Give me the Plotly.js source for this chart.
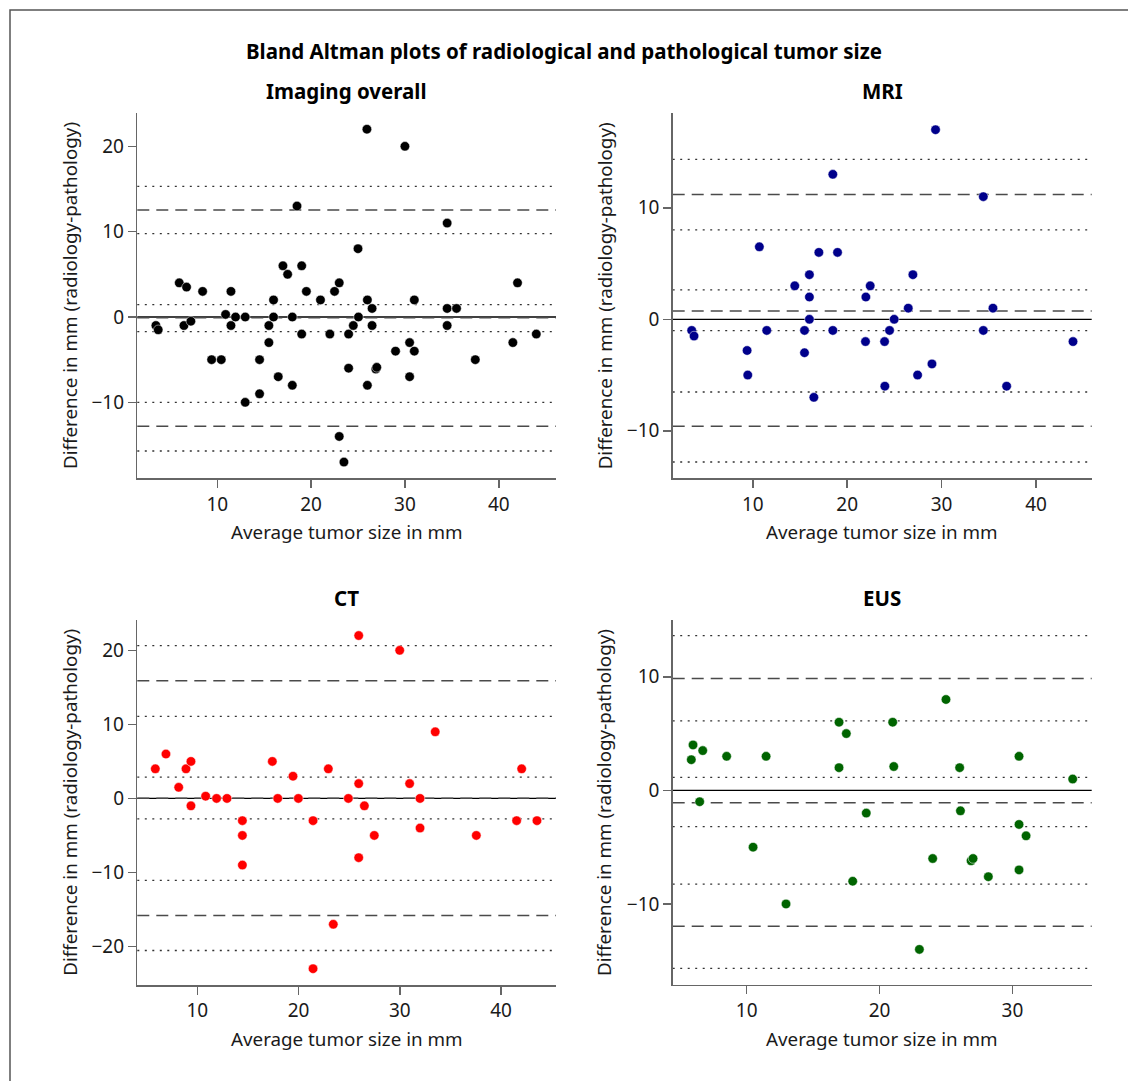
<!DOCTYPE html>
<html>
<head>
<meta charset="utf-8">
<script src="https://cdn.plot.ly/plotly-3.0.1.min.js"></script>
<style>html,body{margin:0;padding:0;background:#fff;}#chart{width:1128px;height:1081px;}</style>
</head>
<body>
<div id="chart"></div>
<script>
// ---------- data ----------
const panelTitles = ["Imaging overall", "MRI", "CT", "EUS"];
const mainTitle = "Bland Altman plots of radiological and pathological tumor size";
const xTitle = "Average tumor size in mm";
const yTitle = "Difference in mm (radiology-pathology)";

const overallX = [3.46,3.71,5.95,6.73,6.45,7.19,8.44,9.40,10.43,10.89,11.46,11.46,11.95,12.98,12.98,14.51,14.51,15.5,15.5,16.0,16.0,16.5,17.0,17.5,18.0,18.0,18.5,19.0,19.0,19.5,21.0,22.0,22.5,23.0,23.0,23.5,24.0,24.0,24.5,25.0,25.05,25.95,26.0,26.0,26.5,26.5,26.9,27.0,29.0,30.0,30.5,30.5,31.0,31.0,34.5,34.5,34.5,35.5,37.5,41.5,42.0,44.0];
const overallY = [-1,-1.5,4,3.5,-1,-0.5,3,-5,-5,0.3,3,-1,0,0,-10,-5,-9,-1,-3,2,0,-7,6,5,0,-8,13,6,-2,3,2,-2,3,4,-14,-17,-2,-6,-1,8,0,22,2,-8,1,-1,-6.1,-5.9,-4,20,-3,-7,2,-4,11,1,-1,1,-5,-3,4,-2];

const mriX = [3.53,3.78,9.4,9.47,10.7,11.48,14.45,15.48,15.48,16.0,16.0,16.0,16.47,17.0,18.48,18.48,18.98,21.98,21.94,22.44,23.96,23.99,24.49,24.98,26.47,26.96,27.46,28.98,29.36,34.42,34.42,35.44,36.89,43.92];
const mriY = [-1,-1.5,-2.8,-5,6.5,-1,3,-1,-3,4,2,0,-7,6,13,-1,6,2,-2,3,-2,-6,-1,0,1,4,-5,-4,17,11,-1,1,-6,-2];

const ctX = [5.85,6.9,8.16,8.88,9.37,9.37,10.82,11.9,12.93,14.45,14.45,14.45,17.41,17.94,19.45,19.98,21.43,21.43,22.94,23.43,24.92,25.94,25.94,25.94,26.5,27.48,29.99,30.97,32.0,32.0,33.5,37.56,41.54,42.04,43.55];
const ctY = [4,6,1.5,4,5,-1,0.3,0,0,-3,-5,-9,5,0,3,0,-3,-23,4,-17,0,22,2,-8,-1,-5,20,2,0,-4,9,-5,-3,4,-3];

const eusX = [5.83,5.96,6.69,6.46,8.49,10.48,11.46,12.96,16.95,16.95,17.5,17.98,19.0,20.99,21.07,23.0,24.0,25.0,26.03,26.09,26.89,27.04,28.19,30.5,30.5,30.5,31.03,34.54];
const eusY = [2.7,4,3.5,-1,3,-5,3,-10,6,2,5,-8,-2,6,2.1,-14,-6,8,2,-1.8,-6.2,-6,-7.6,3,-3,-7,-4,1];

// bias and limits of agreement with confidence bounds: [mean, meanLo, meanHi, upper, upperLo, upperHi, lower, lowerLo, lowerHi]
const overallStats = [-0.08,-1.72,1.45,12.54,9.77,15.3,-12.8,-15.7,-10.0];
const mriStats = [0.75,-1.02,2.63,11.18,8.01,14.35,-9.6,-12.8,-6.52];
const ctStats = [0.04,-2.75,2.88,15.9,11.08,20.63,-15.81,-20.54,-11.08];
const eusStats = [-1.09,-3.2,1.15,9.84,6.11,13.63,-11.96,-15.68,-8.25];
const zeroLine = 0;

// ---------- layout helpers ----------
const W = 1128, H = 1081;
const px = v => v / W;
const py = v => 1 - v / H;

const panels = [
  {x: overallX, y: overallY, stats: overallStats, color: "#000000", xr: [1.48, 46.1], yr: [-18.9, 23.9], dom: [137.3, 556, 113, 478.3]},
  {x: mriX, y: mriY, stats: mriStats, color: "#00008B", xr: [1.52, 45.9], yr: [-14.26, 18.5], dom: [672.7, 1091.7, 113, 478.3]},
  {x: ctX, y: ctY, stats: ctStats, color: "#FF0000", xr: [4.07, 45.43], yr: [-25.2, 24.1], dom: [137.3, 556, 620, 985]},
  {x: eusX, y: eusY, stats: eusStats, color: "#006400", xr: [4.43, 35.97], yr: [-17.1, 15.0], dom: [672.7, 1091.7, 620, 984.6]}
];

const font = "Noto Sans, Open Sans, DejaVu Sans, sans-serif";
const traces = [];
const shapes = [];
const annotations = [];
const layout = {
  width: W, height: H,
  margin: {l: 0, r: 0, t: 0, b: 0},
  paper_bgcolor: "#ffffff", plot_bgcolor: "#ffffff",
  showlegend: false,
  font: {family: font, color: "#1a1a1a", size: 18},
  title: {text: "<b>" + mainTitle + "</b>", x: 0.5, xanchor: "center", y: py(52), yanchor: "middle", yref: "paper",
          font: {family: font, size: 20.5, color: "#000"}},
};

panels.forEach((p, i) => {
  const n = i === 0 ? "" : String(i + 1);
  const xa = "x" + n, ya = "y" + n;
  traces.push({
    type: "scatter", mode: "markers", x: p.x, y: p.y, xaxis: xa, yaxis: ya,
    marker: {color: p.color, size: 9.5, line: {color: "#ffffff", width: 0.5}},
    hoverinfo: "x+y"
  });
  const axCommon = {
    showline: true, linecolor: "#666", linewidth: 1.5,
    ticks: "outside", ticklen: 8, tickwidth: 1.5, tickcolor: "#666",
    showgrid: false, zeroline: false, dtick: 10, tick0: 0,
    tickfont: {family: font, size: 19, color: "#1a1a1a"}
  };
  layout["xaxis" + n] = Object.assign({}, axCommon, {
    domain: [px(p.dom[0]), px(p.dom[1])], range: p.xr, anchor: ya
  });
  layout["yaxis" + n] = Object.assign({}, axCommon, {
    domain: [py(p.dom[3]), py(p.dom[2])], range: p.yr, anchor: xa
  });
  const s = p.stats;
  const dotted = {color: "#333", width: 1.3, dash: "2px,5.5px"};
  const dashed = {color: "#4a4a4a", width: 1.5, dash: "12px,7px"};
  const hl = (yv, line) => shapes.push({
    type: "line", xref: xa + " domain", x0: 0, x1: 1, yref: ya, y0: yv, y1: yv, line: line, layer: "below"
  });
  hl(zeroLine, {color: "#000", width: 1.3});
  hl(s[0], dashed); hl(s[1], dotted); hl(s[2], dotted);
  hl(s[3], dashed); hl(s[4], dotted); hl(s[5], dotted);
  hl(s[6], dashed); hl(s[7], dotted); hl(s[8], dotted);

  const cx = (p.dom[0] + p.dom[1]) / 2;
  // panel title
  annotations.push({text: "<b>" + panelTitles[i] + "</b>", xref: "paper", yref: "paper",
    x: px(cx), y: py(p.dom[2] - 22), xanchor: "center", yanchor: "middle", showarrow: false,
    font: {family: font, size: 20.5, color: "#000"}});
  // x axis title
  annotations.push({text: xTitle, xref: "paper", yref: "paper",
    x: px(cx), y: py(p.dom[3] + 54), xanchor: "center", yanchor: "middle", showarrow: false,
    font: {family: font, size: 18.8, color: "#1a1a1a"}});
  // y axis title
  annotations.push({text: yTitle, xref: "paper", yref: "paper", textangle: -90,
    x: px(p.dom[0] - 68), y: py((p.dom[2] + p.dom[3]) / 2), xanchor: "center", yanchor: "middle", showarrow: false,
    font: {family: font, size: 18.8, color: "#1a1a1a"}});
});

// figure frame (left and top edges)
shapes.push({type: "path", xref: "paper", yref: "paper",
  path: "M " + px(10) + " 0 L " + px(10) + " " + py(10) + " L 1 " + py(10),
  line: {color: "#555", width: 1.5}});

layout.shapes = shapes;
layout.annotations = annotations;

Plotly.newPlot("chart", traces, layout, {displayModeBar: false, staticPlot: true});
</script>
</body>
</html>
